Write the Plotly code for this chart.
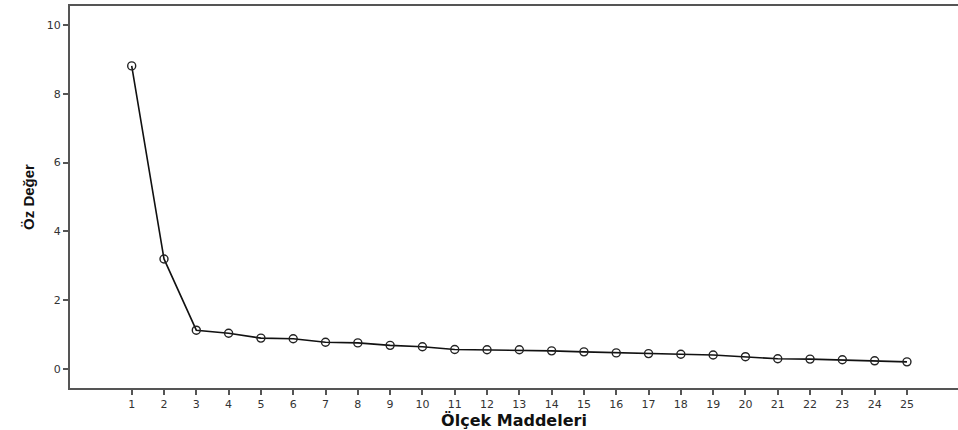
import plotly.graph_objects as go

items = list(range(1, 26))
eigenvalues = [8.81, 3.20, 1.13, 1.04, 0.90, 0.88, 0.78, 0.76, 0.69, 0.65,
               0.57, 0.56, 0.56, 0.53, 0.50, 0.47, 0.45, 0.43, 0.41, 0.36,
               0.30, 0.29, 0.27, 0.24, 0.21]
y_ticks = [0, 2, 4, 6, 8, 10]
x_title = "Ölçek Maddeleri"
y_title = "Öz Değer"

fig = go.Figure()
fig.add_trace(go.Scatter(
    x=items, y=eigenvalues, mode="lines+markers",
    line=dict(color="#111111", width=1.6),
    marker=dict(symbol="circle-open", size=8, color="#222222",
                line=dict(width=1.4, color="#222222")),
    showlegend=False,
))

axis_common = dict(
    showgrid=False, zeroline=False, showline=True, linecolor="#555555",
    linewidth=2, ticks="outside", ticklen=5, tickcolor="#555555",
    tickwidth=1.5,
    tickfont=dict(family="DejaVu Sans, sans-serif", size=11, color="#333333"),
)

fig.update_layout(
    width=958, height=430,
    margin=dict(l=70, r=0, t=6, b=42),
    plot_bgcolor="white", paper_bgcolor="white",
    xaxis=dict(
        range=[-0.91, 26.58], tickmode="array", tickvals=items,
        ticktext=[str(i) for i in items], mirror=True,
        title=dict(text=x_title, standoff=4,
                   font=dict(family="DejaVu Sans, sans-serif", size=16, color="#111111", weight="bold")),
        **axis_common,
    ),
    yaxis=dict(
        range=[-0.55, 10.55], tickmode="array", tickvals=y_ticks,
        ticktext=[str(v) for v in y_ticks],
        title=dict(text=y_title, standoff=9,
                   font=dict(family="Liberation Sans Narrow, Arial Narrow, Liberation Sans, sans-serif", size=15, color="#111111", weight="bold")),
        **axis_common,
    ),
)

fig.write_html("out.html", config={"displayModeBar": False},
               post_script="document.body.style.margin='0';document.body.style.overflow='hidden';")
